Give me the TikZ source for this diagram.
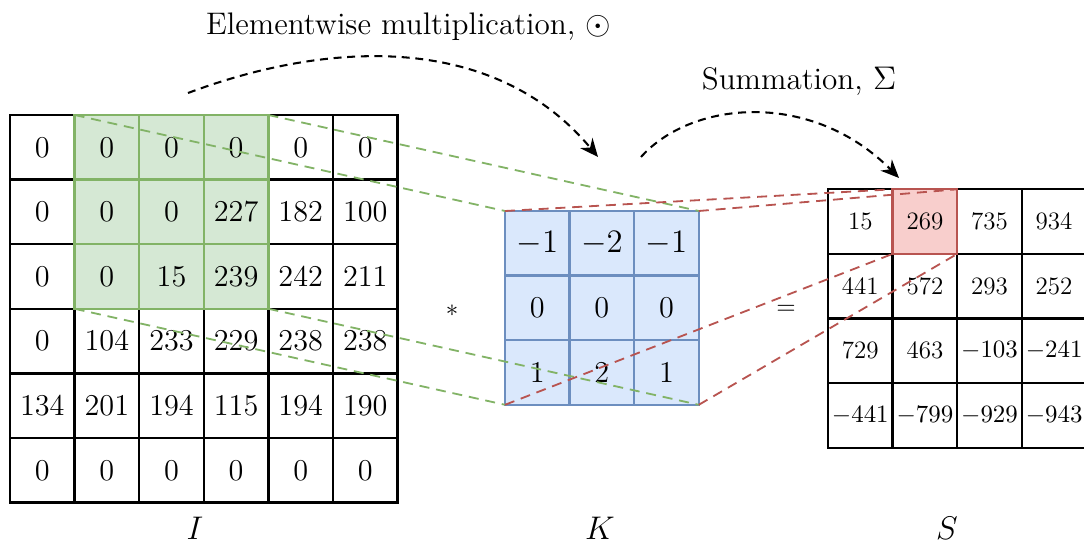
\documentclass[tikz,border=0pt]{standalone}
\usetikzlibrary{arrows.meta,backgrounds}
\definecolor{gfill}{HTML}{D5E8D4}
\definecolor{gstroke}{HTML}{82B366}
\definecolor{bfill}{HTML}{DAE8FC}
\definecolor{bstroke}{HTML}{6C8EBF}
\definecolor{rfill}{HTML}{F8CECC}
\definecolor{rstroke}{HTML}{B85450}
\tikzset{
  cellbox/.style={draw=black, line width=1pt, minimum width=28.4pt, minimum height=28.4pt, inner sep=0pt, outer sep=0pt, font=\fontsize{13.3}{16}\selectfont},
  kcell/.style={cellbox, draw=bstroke, fill=bfill},
  scell/.style={cellbox, font=\fontsize{11}{13}\selectfont},
  gline/.style={draw=gstroke, line width=0.8pt, dash pattern=on 4.4pt off 3pt},
  rline/.style={draw=rstroke, line width=0.8pt, dash pattern=on 4.4pt off 3pt},
  bigarrow/.style={draw=black, line width=0.9pt, dash pattern=on 3.5pt off 2.5pt, -{Stealth[length=8pt,width=7pt]}},
  lbl/.style={font=\Large, anchor=base, inner sep=0pt},
  ttl/.style={font=\fontsize{13.7}{16}\selectfont, anchor=base, inner sep=0pt},
  opnode/.style={font=\fontsize{11}{13}\selectfont},
}
\begin{document}
\begin{tikzpicture}[x=0.4397pt, y=-0.4397pt]
\useasboundingbox (0,0) rectangle (1084,543);
% Input matrix I
\foreach \rowvals [count=\r from 0] in {{0,0,0,0,0,0},{0,0,0,227,182,100},{0,0,15,239,242,211},{0,104,233,229,238,238},{134,201,194,115,194,190},{0,0,0,0,0,0}}{
  \foreach \v [count=\c from 0] in \rowvals {
    \node[cellbox] (I-\r-\c) at ({10+64.6*(\c+0.5)},{115+64.6*(\r+0.5)}) {\v};
  }
}
\begin{scope}[on background layer]
  \fill[gfill] (I-0-1.north west) rectangle (I-2-3.south east);
\end{scope}
\foreach \r in {0,1,2}{
  \foreach \c in {1,2,3}{
    \draw[draw=gstroke, line width=1pt] (I-\r-\c.north west) rectangle (I-\r-\c.south east);
  }
}
% Kernel K
\foreach \rowvals [count=\r from 0] in {{$-1$,$-2$,$-1$},{0,0,0},{1,2,1}}{
  \foreach \v [count=\c from 0] in \rowvals {
    \node[kcell] (K-\r-\c) at ({505+64.6*(\c+0.5)},{211+64.6*(\r+0.5)}) {\v};
  }
}
% Output S
\foreach \rowvals [count=\r from 0] in {{15,269,735,934},{441,572,293,252},{729,463,$-103$,$-241$},{$-441$,$-799$,$-929$,$-943$}}{
  \foreach \v [count=\c from 0] in \rowvals {
    \node[scell] (S-\r-\c) at ({828+64.6*(\c+0.5)},{189.3+64.6*(\r+0.5)}) {\v};
  }
}
\begin{scope}[on background layer]
  \fill[rfill] (S-0-1.north west) rectangle (S-0-1.south east);
\end{scope}
\draw[draw=rstroke, line width=1pt] (S-0-1.north west) rectangle (S-0-1.south east);
% operators
\node[opnode] (op1) at (452,311) {$*$};
\node[opnode] (op2) at (786,310) {$=$};
% labels
\node[lbl] (lI) at (195,539.5) {$I$};
\node[lbl] (lK) at (600,539.5) {$K$};
\node[lbl] (lS) at (947,539.5) {$S$};
\node[ttl] (t1) at (408.5,35) {Elementwise multiplication, $\odot$};
\node[ttl] (t2) at (799,90) {Summation, $\Sigma$};
% projection lines
\draw[gline] (I-0-1.north west) -- (K-0-0.north west);
\draw[gline] (I-0-3.north east) -- (K-0-2.north east);
\draw[gline] (I-2-1.south west) -- (K-2-0.south west);
\draw[gline] (I-2-3.south east) -- (K-2-2.south east);
\draw[rline] (K-0-0.north west) -- (S-0-1.north west);
\draw[rline] (K-0-2.north east) -- (S-0-1.north east);
\draw[rline] (K-2-0.south west) -- (S-0-1.south west);
\draw[rline] (K-2-2.south east) -- (S-0-1.south east);
% curved arrows
\coordinate (a1s) at (188,93);
\coordinate (a1e) at (598,157);
\coordinate (a2s) at (641,157);
\coordinate (a2e) at (899,178);
\draw[bigarrow] (a1s) .. controls (338,37) and (498,37) .. (a1e);
\draw[bigarrow] (a2s) .. controls (692,100) and (812,90) .. (a2e);
\end{tikzpicture}
\end{document}
